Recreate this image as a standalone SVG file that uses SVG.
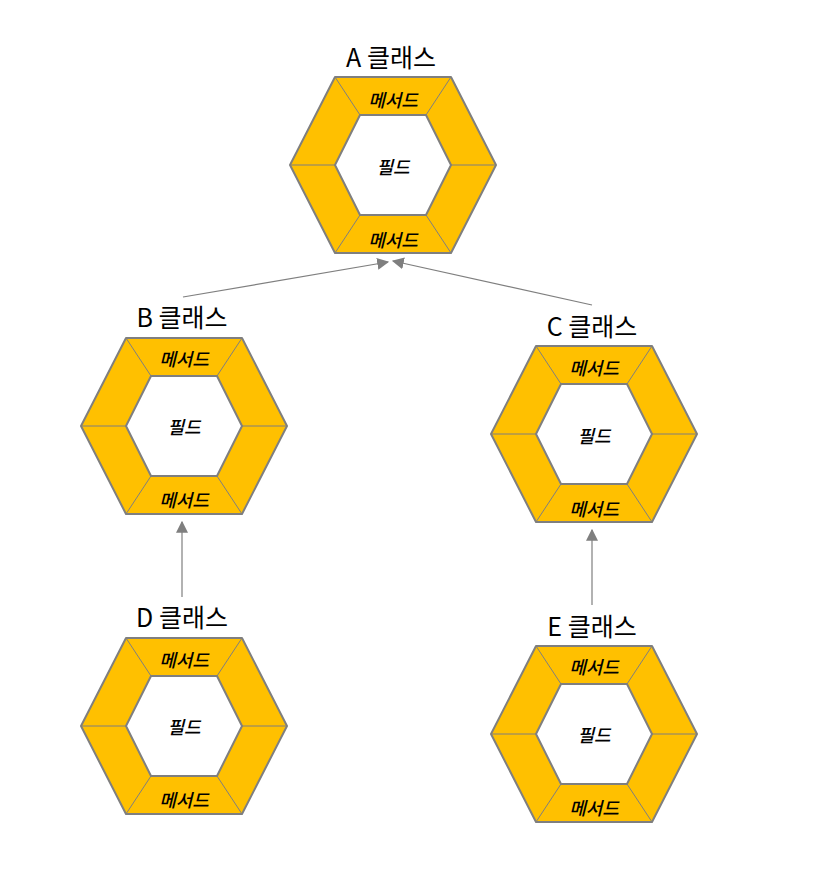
<svg xmlns="http://www.w3.org/2000/svg" xmlns:xlink="http://www.w3.org/1999/xlink" width="813" height="873" viewBox="0 0 813 873">
<style>
.outer{fill:#FFC000;stroke:#7F7F7F;stroke-width:2;stroke-linejoin:round}
.inner{fill:#FFFFFF;stroke:#7F7F7F;stroke-width:2;stroke-linejoin:round}
.div{stroke:#7F7F7F;stroke-width:1;fill:none}
.title{font-family:"Noto Sans CJK KR","Noto Sans",sans-serif;font-size:25px;fill:#000;text-anchor:middle}
.lbl{font-family:"Noto Sans CJK KR","Noto Sans",sans-serif;font-size:18px;font-style:italic;font-weight:500;fill:#000;text-anchor:middle}
.conn{stroke:#7F7F7F;stroke-width:1.2;fill:none;marker-end:url(#arr)}
</style>
<defs>
<marker id="arr" viewBox="0 0 10 10" refX="9" refY="5" markerWidth="12" markerHeight="12" markerUnits="userSpaceOnUse" orient="auto">
<path d="M0,0 L10,5 L0,10 Z" fill="#7F7F7F"/>
</marker>
<g id="hex">
<path class="outer" d="M-103,0 L-58,-88 L58,-88 L103,0 L58,88 L-58,88 Z"/>
<path class="div" d="M-58,-88 L-33,-50 M58,-88 L33,-50 M103,0 L58,0 M58,88 L33,50 M-58,88 L-33,50 M-103,0 L-58,0"/>
<path class="inner" d="M-58,0 L-33,-50 L33,-50 L58,0 L33,50 L-33,50 Z"/>
</g>
</defs>
<rect width="813" height="873" fill="#FFFFFF"/>
<g id="connectors">
<line class="conn" x1="183" y1="297" x2="388" y2="262"/>
<line class="conn" x1="592" y1="305" x2="393" y2="261"/>
<line class="conn" x1="182" y1="597" x2="182" y2="522"/>
<line class="conn" x1="592" y1="605" x2="592" y2="530"/>
</g>
<g id="nodeA">
<text class="title" x="391" y="67">A 클래스</text>
<use xlink:href="#hex" x="393" y="165"/>
<text class="lbl" x="393" y="107">메서드</text>
<text class="lbl" x="393" y="174">필드</text>
<text class="lbl" x="393" y="247">메서드</text>
</g>
<g id="nodeB">
<text class="title" x="182" y="327">B 클래스</text>
<use xlink:href="#hex" x="184" y="426"/>
<text class="lbl" x="184" y="366">메서드</text>
<text class="lbl" x="184" y="434">필드</text>
<text class="lbl" x="184" y="507">메서드</text>
</g>
<g id="nodeC">
<text class="title" x="592" y="336">C 클래스</text>
<use xlink:href="#hex" x="594" y="434"/>
<text class="lbl" x="594" y="375">메서드</text>
<text class="lbl" x="594" y="443">필드</text>
<text class="lbl" x="594" y="516">메서드</text>
</g>
<g id="nodeD">
<text class="title" x="182" y="627">D 클래스</text>
<use xlink:href="#hex" x="184" y="726"/>
<text class="lbl" x="184" y="667">메서드</text>
<text class="lbl" x="184" y="734">필드</text>
<text class="lbl" x="184" y="807">메서드</text>
</g>
<g id="nodeE">
<text class="title" x="592" y="636">E 클래스</text>
<use xlink:href="#hex" x="594" y="734"/>
<text class="lbl" x="594" y="674">메서드</text>
<text class="lbl" x="594" y="742">필드</text>
<text class="lbl" x="594" y="815">메서드</text>
</g>
</svg>
